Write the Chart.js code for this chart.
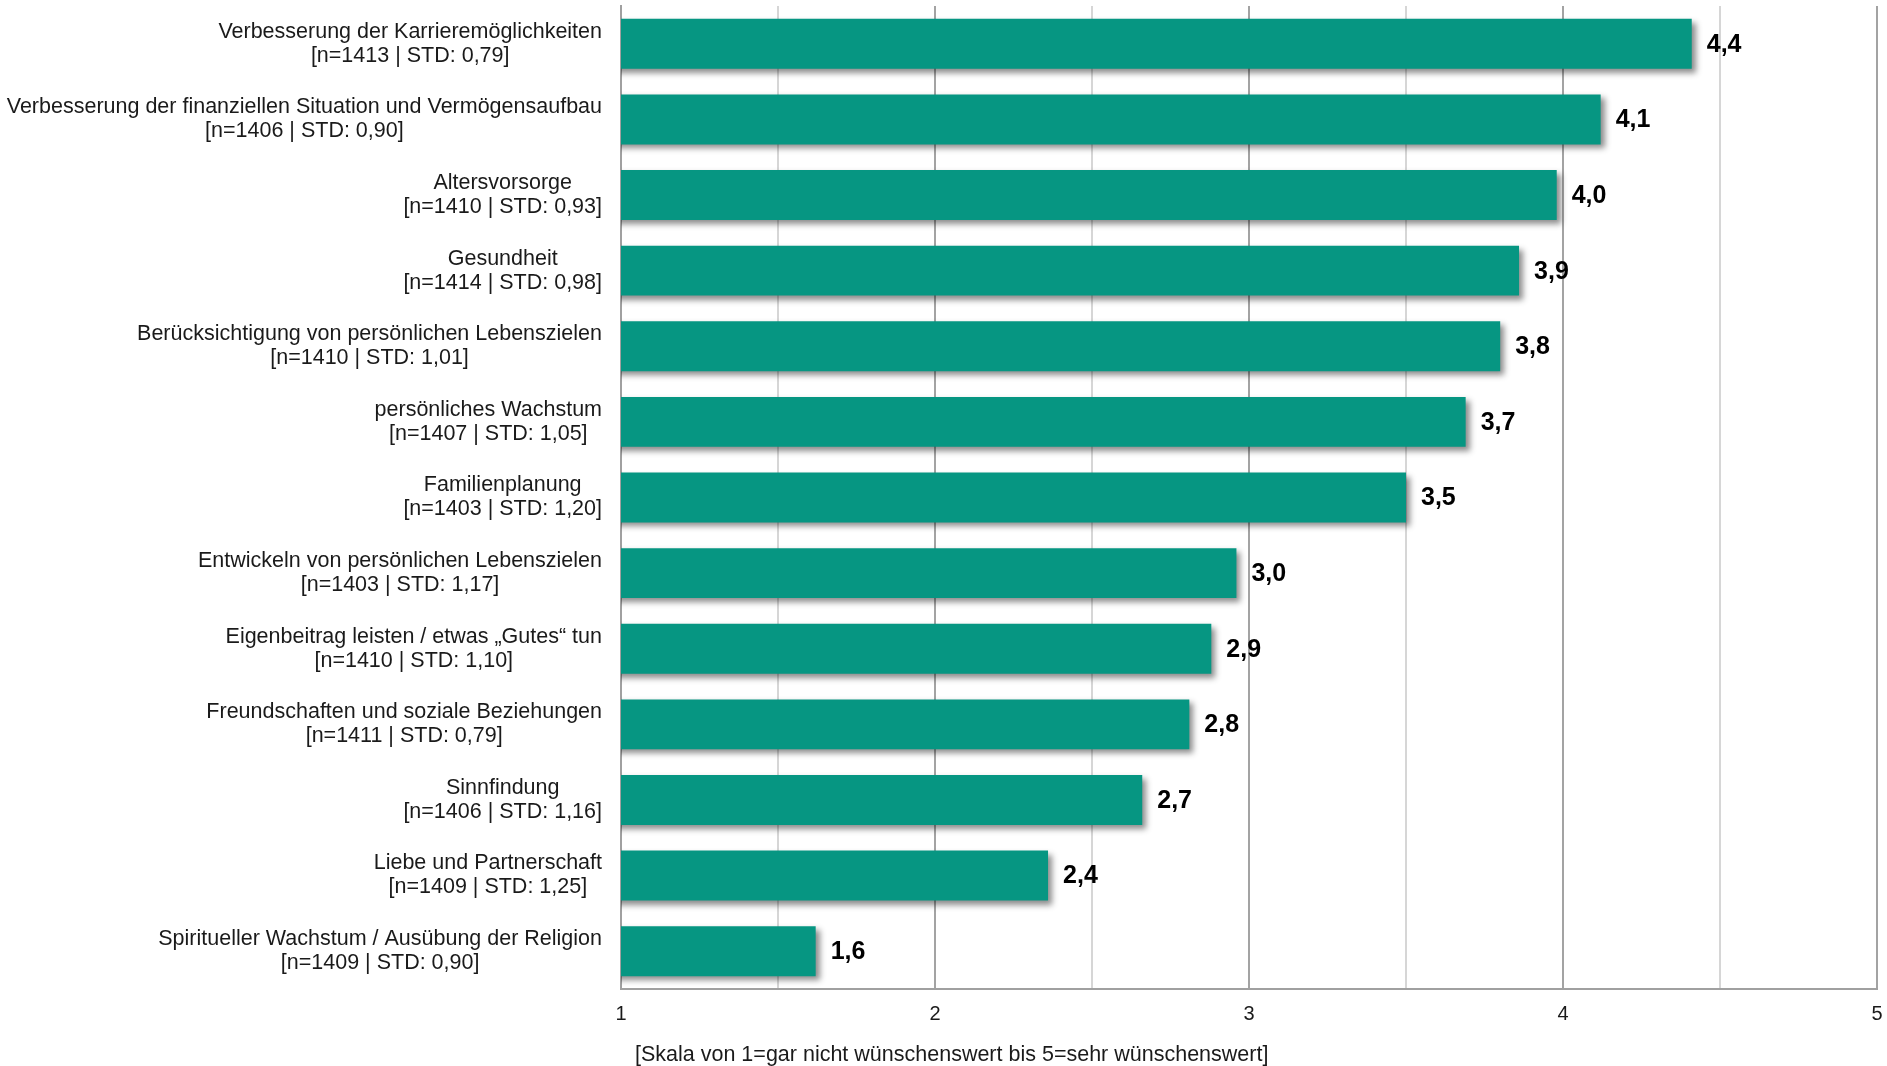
<!DOCTYPE html>
<html>
<head>
<meta charset="utf-8">
<script src="https://cdn.jsdelivr.net/npm/chart.js@4/dist/chart.umd.min.js"></script>
<style>
  html, body { margin: 0; padding: 0; background: #fff; }
  .container { width: 1887px; height: 1066px; }
</style>
</head>
<body>
<div class="container">
  <canvas id="chart" width="1887" height="1066"></canvas>
</div>
<script>
const categories = [
  'Verbesserung der Karrieremöglichkeiten',
  'Verbesserung der finanziellen Situation und Vermögensaufbau',
  'Altersvorsorge',
  'Gesundheit',
  'Berücksichtigung von persönlichen Lebenszielen',
  'persönliches Wachstum',
  'Familienplanung',
  'Entwickeln von persönlichen Lebenszielen',
  'Eigenbeitrag leisten / etwas \u201eGutes\u201c tun',
  'Freundschaften und soziale Beziehungen',
  'Sinnfindung',
  'Liebe und Partnerschaft',
  'Spiritueller Wachstum / Ausübung der Religion',
];

const stats = [
  '[n=1413 | STD: 0,79]',
  '[n=1406 | STD: 0,90]',
  '[n=1410 | STD: 0,93]',
  '[n=1414 | STD: 0,98]',
  '[n=1410 | STD: 1,01]',
  '[n=1407 | STD: 1,05]',
  '[n=1403 | STD: 1,20]',
  '[n=1403 | STD: 1,17]',
  '[n=1410 | STD: 1,10]',
  '[n=1411 | STD: 0,79]',
  '[n=1406 | STD: 1,16]',
  '[n=1409 | STD: 1,25]',
  '[n=1409 | STD: 0,90]',
];

const means = [4.41, 4.12, 3.98, 3.86, 3.80, 3.69, 3.50, 2.96, 2.88, 2.81, 2.66, 2.36, 1.62];

const xTickLabels = ['1', '2', '3', '4', '5'];

const axisTitle = '[Skala von 1=gar nicht wünschenswert bis 5=sehr wünschenswert]';

const barColor = '#069682';
const font = '"Liberation Sans", Arial, sans-serif';

// drop shadow under the bars
const barShadow = {
  id: 'barShadow',
  beforeDatasetsDraw(chart) {
    const ctx = chart.ctx;
    ctx.save();
    ctx.shadowColor = 'rgba(0, 0, 0, 0.45)';
    ctx.shadowBlur = 6;
    ctx.shadowOffsetX = 4;
    ctx.shadowOffsetY = 4;
  },
  afterDatasetsDraw(chart) {
    chart.ctx.restore();
  },
};

// category labels (two centred lines, block right-aligned), value labels, axis title
const textLayer = {
  id: 'textLayer',
  afterDraw(chart) {
    const ctx = chart.ctx;
    const area = chart.chartArea;
    const yScale = chart.scales.y;
    const meta = chart.getDatasetMeta(0);

    ctx.save();
    ctx.fillStyle = '#1a1a1a';
    ctx.font = '21.5px ' + font;
    ctx.textBaseline = 'middle';
    ctx.textAlign = 'center';
    categories.forEach((name, i) => {
      const y = yScale.getPixelForTick(i);
      const w = Math.max(ctx.measureText(name).width, ctx.measureText(stats[i]).width);
      const cx = area.left - 19 - w / 2;
      ctx.fillText(name, cx, y - 12);
      ctx.fillText(stats[i], cx, y + 12);
    });

    ctx.fillStyle = '#000';
    ctx.font = 'bold 25px ' + font;
    ctx.textAlign = 'left';
    meta.data.forEach((bar, i) => {
      const label = means[i].toFixed(1).replace('.', ',');
      ctx.fillText(label, bar.x + 15, bar.y + 1);
    });

    ctx.fillStyle = '#1a1a1a';
    ctx.font = '21.5px ' + font;
    ctx.textAlign = 'left';
    ctx.fillText(axisTitle, area.left + 14, 1055);
    ctx.restore();
  },
};

const ctx = document.getElementById('chart').getContext('2d');
new Chart(ctx, {
  type: 'bar',
  data: {
    labels: categories,
    datasets: [
      {
        data: means,
        backgroundColor: barColor,
        borderWidth: 0,
        barPercentage: 0.66,
        categoryPercentage: 1,
      },
    ],
  },
  options: {
    indexAxis: 'y',
    responsive: false,
    animation: false,
    layout: {
      padding: { top: 6, right: 10, bottom: 0, left: 0 },
    },
    plugins: {
      legend: { display: false },
      tooltip: { enabled: false },
    },
    scales: {
      x: {
        min: 1,
        max: 5,
        afterFit: s => {
          s.height = 77;
          s.paddingLeft = 0;
          s.paddingRight = 0;
        },
        ticks: {
          stepSize: 0.5,
          autoSkip: false,
          maxRotation: 0,
          padding: 13,
          color: '#1a1a1a',
          font: { family: font, size: 20 },
          callback: v => (Number.isInteger(v) ? xTickLabels[v - 1] : ''),
        },
        grid: {
          drawTicks: false,
          lineWidth: 2,
          color: c => (c.tick && Number.isInteger(c.tick.value) ? '#a3a3a3' : '#d6d6d6'),
        },
        border: { color: '#a0a0a0', width: 2 },
      },
      y: {
        afterFit: s => { s.width = 621; },
        ticks: { display: false },
        grid: { display: false, drawTicks: false },
        border: { color: '#a0a0a0', width: 2 },
      },
    },
  },
  plugins: [barShadow, textLayer],
});
</script>
</body>
</html>
